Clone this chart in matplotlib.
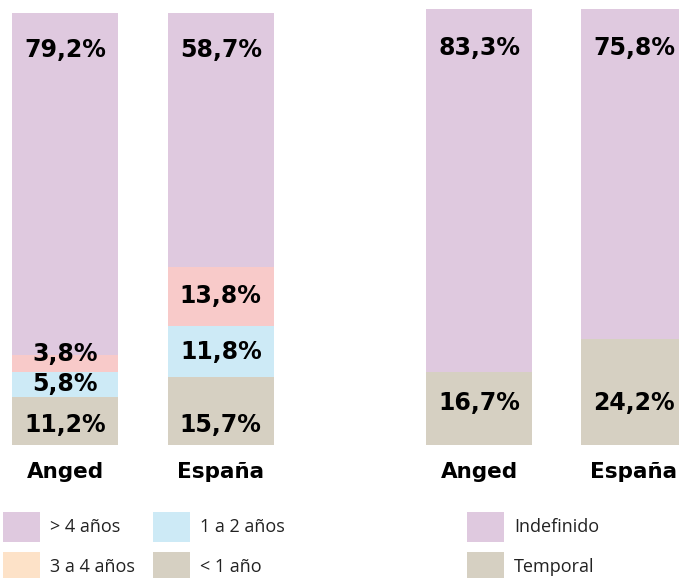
import matplotlib
matplotlib.use("Agg")
import matplotlib.pyplot as plt
import numpy as np

# ---- data ----
categories = ["Anged", "España"]
antig_labels = ["< 1 año", "1 a 2 años", "3 a 4 años", "> 4 años"]
antig_values = {
    "< 1 año": [11.2, 15.7],
    "1 a 2 años": [5.8, 11.8],
    "3 a 4 años": [3.8, 13.8],
    "> 4 años": [79.2, 58.7],
}
contrato_labels = ["Temporal", "Indefinido"]
contrato_values = {
    "Temporal": [16.7, 24.2],
    "Indefinido": [83.3, 75.8],
}

# ---- styles ----
col = {
    "< 1 año": "#d6d0c2",
    "1 a 2 años": "#cdeaf6",
    "3 a 4 años": "#f8cac9",
    "> 4 años": "#dfc9df",
    "Temporal": "#d6d0c2",
    "Indefinido": "#dfc9df",
}
legend_col_3a4 = "#fde2c8"

W, H = 679, 578
fig = plt.figure(figsize=(W / 100, H / 100), dpi=100)
fam = ["DejaVu Sans"]
VFS = 17
VW = "bold"

def fmt(v):
    return f"{v:.1f}".replace(".", ",") + "%"

# left axes
spacing = 155.5
barw = 106 / spacing
axL = fig.add_axes([0, (H - 445) / H, (1.92 * spacing) / W, 432 / H])
axL.set_xlim(-0.42, 1.5)
axL.set_ylim(0, 100)
x = np.arange(len(categories))
bottom = np.zeros(len(categories))
for lab in antig_labels:
    vals = np.array(antig_values[lab])
    axL.bar(x, vals, bottom=bottom, width=barw, color=col[lab], linewidth=0)
    bottom += vals

# label placement: bottom segment near base, top segment near top,
# middle ones centred but kept a minimum distance apart
MIN_GAP = 7.0
for i in range(len(categories)):
    b = 0.0
    prev = None
    for j, lab in enumerate(antig_labels):
        v = antig_values[lab][i]
        if j == 0:
            y = 4.6
        elif j == len(antig_labels) - 1:
            y = 91.4
        else:
            y = b + v / 2
            if prev is not None:
                y = max(y, prev + MIN_GAP)
        axL.text(x[i], y, fmt(v), ha="center", va="center", fontsize=VFS,
                 fontweight=VW, family=fam, color="black")
        prev = y
        b += v
axL.axis("off")

# right axes
spacingR = 155
barwR = 106 / spacingR
left_px = 479 - 0.5 * spacingR
axR = fig.add_axes([left_px / W, (H - 445) / H, (W - left_px) / W, 436 / H])
axR.set_xlim(-0.5, -0.5 + (W - left_px) / spacingR)
axR.set_ylim(0, 100)
bottom = np.zeros(len(categories))
for lab in contrato_labels:
    vals = np.array(contrato_values[lab])
    axR.bar(x, vals, bottom=bottom, width=barwR, color=col[lab], linewidth=0)
    bottom += vals
for i in range(len(categories)):
    axR.text(x[i], 9.6, fmt(contrato_values["Temporal"][i]), ha="center", va="center",
             fontsize=VFS, fontweight=VW, family=fam)
    axR.text(x[i], 91.0, fmt(contrato_values["Indefinido"][i]), ha="center", va="center",
             fontsize=VFS, fontweight=VW, family=fam)
axR.axis("off")

# category labels
for ax in (axL, axR):
    for i, c in enumerate(categories):
        ax.text(x[i], -6.3, c, ha="center", va="center", fontsize=15.5, fontweight=VW,
                family=fam, clip_on=False)

# legends
def swatch(px, py, color, text):
    fig.patches.append(plt.Rectangle((px / W, 1 - (py + 30) / H), 37 / W, 30 / H,
                                     transform=fig.transFigure, color=color, lw=0))
    fig.text((px + 47) / W, 1 - (py + 15) / H, text, ha="left", va="center",
             fontsize=13, family=["Open Sans", "DejaVu Sans"], color="#222222")

swatch(3, 512, col["> 4 años"], "> 4 años")
swatch(3, 552, legend_col_3a4, "3 a 4 años")
swatch(153, 512, col["1 a 2 años"], "1 a 2 años")
swatch(153, 552, col["< 1 año"], "< 1 año")
swatch(467, 512, col["Indefinido"], "Indefinido")
swatch(467, 552, col["Temporal"], "Temporal")

fig.savefig("out.png", dpi=100)
